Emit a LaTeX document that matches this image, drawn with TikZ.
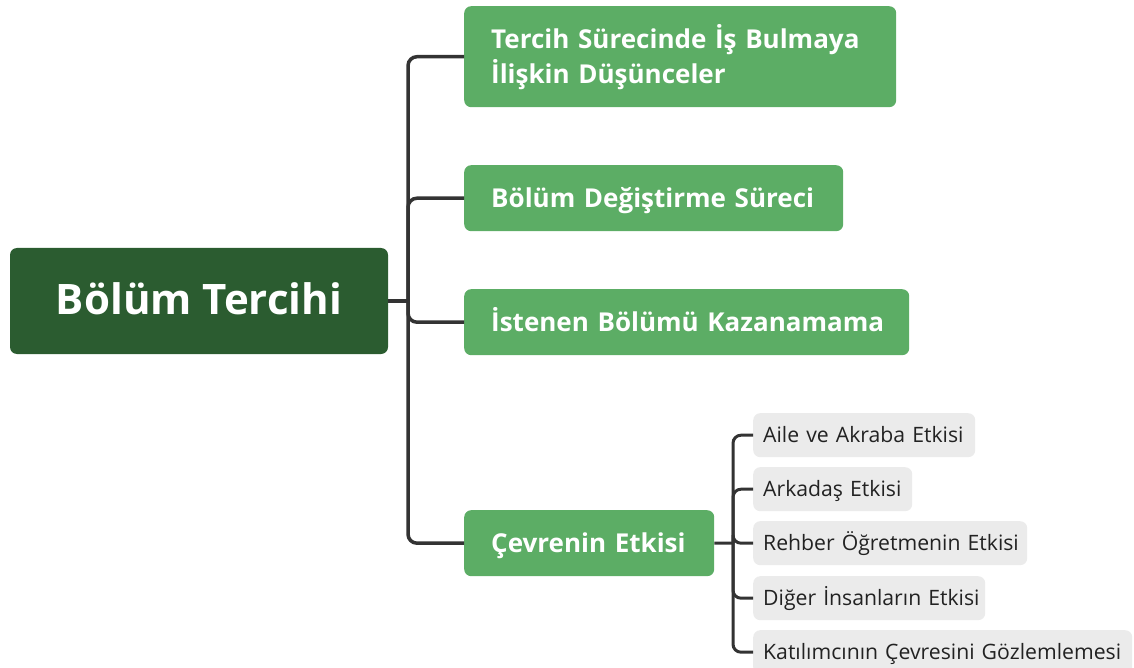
\documentclass[tikz,border=0pt]{standalone}
\usepackage{fontspec}
\setmainfont{Open Sans}
\hfuzz=200pt
\definecolor{rootgreen}{HTML}{2B5C30}
\definecolor{branchgreen}{HTML}{5CAD65}
\definecolor{subgray}{HTML}{EBEBEB}
\definecolor{linegray}{HTML}{333333}
\definecolor{subtext}{HTML}{222222}
\begin{document}
\begin{tikzpicture}[x=1pt,y=-1pt,
  rootbox/.style={fill=rootgreen, rounded corners=7pt, text=white, font=\fontsize{42}{50}\selectfont\bfseries, inner sep=0pt, minimum width=378pt, minimum height=106pt, text height=30pt, text depth=4pt},
  branchbox/.style={fill=branchgreen, rounded corners=7pt, text=white, font=\fontsize{26}{35}\selectfont\bfseries, inner xsep=27pt, inner ysep=0pt, align=left, anchor=north west},
  oneline/.style={text height=18.6pt, text depth=0pt},
  subbox/.style={fill=subgray, rounded corners=7pt, text=subtext, font=\fontsize{21.2}{24}\selectfont, inner xsep=10pt, inner ysep=0pt, align=left, anchor=north west, minimum height=44pt, text height=15.1pt, text depth=0pt},
  conn/.style={draw=linegray, line width=3.5pt, rounded corners=9pt},
  subconn/.style={draw=linegray, line width=3pt, rounded corners=8pt}
]
\useasboundingbox (0,0) rectangle (1134,668);
\clip (0,0) rectangle (1134,668);
\node[rootbox] (root) at (199,301) {Bölüm Tercihi};
\node[branchbox, text width=378pt, minimum height=101pt] (b1) at (464,6) {\mbox{Tercih Sürecinde İş Bulmaya}\\\mbox{İlişkin Düşünceler}};
\node[branchbox, oneline, text width=325pt, minimum height=66pt] (b2) at (464,165) {\mbox{Bölüm Değiştirme Süreci}};
\node[branchbox, oneline, text width=391pt, minimum height=66pt] (b3) at (464,289) {\mbox{İstenen Bölümü Kazanamama}};
\node[branchbox, oneline, text width=196pt, minimum height=66pt] (b4) at (464,510) {\mbox{Çevrenin Etkisi}};
\node[subbox, text width=202pt] (s1) at (753,413) {\mbox{Aile ve Akraba Etkisi}};
\node[subbox, text width=139pt] (s2) at (753,467) {\mbox{Arkadaş Etkisi}};
\node[subbox, text width=254pt] (s3) at (753,521) {\mbox{Rehber Öğretmenin Etkisi}};
\node[subbox, text width=212pt] (s4) at (753,576) {\mbox{Diğer İnsanların Etkisi}};
\node[subbox, text width=359pt] (s5) at (753,630) {\mbox{Katılımcının Çevresini Gözlemlemesi}};
\coordinate (t1) at (408,301);
\coordinate (t2) at (733,543);
\draw[conn] (root.east) -- (t1);
\foreach \b in {b1,b2,b3,b4} { \draw[conn] (t1) |- (\b.west); }
\draw[subconn] (b4.east) -- (t2);
\foreach \s in {s1,s2,s3,s4,s5} { \draw[subconn] (t2) |- (\s.west); }
\end{tikzpicture}
\end{document}
